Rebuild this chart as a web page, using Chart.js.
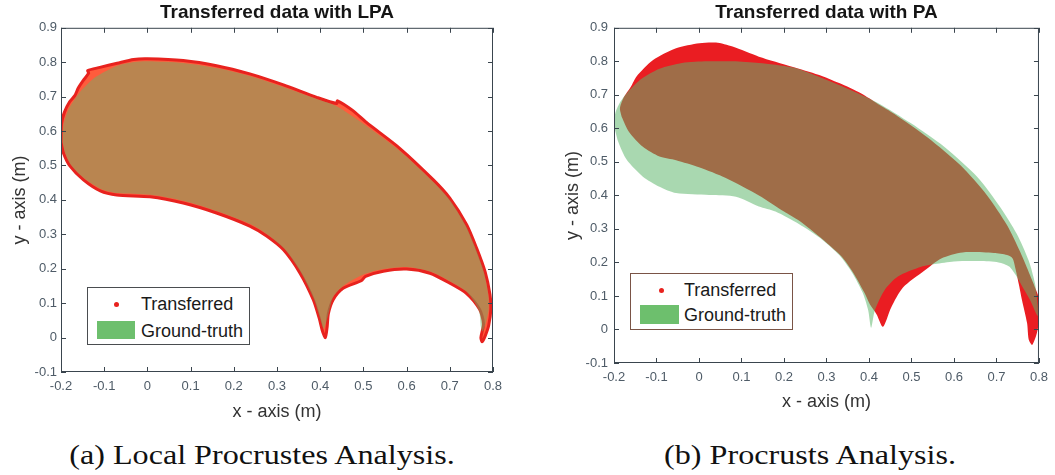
<!DOCTYPE html>
<html>
<head>
<meta charset="utf-8">
<script src="https://cdn.jsdelivr.net/npm/chart.js@4.4.1/dist/chart.umd.min.js"></script>
<style>
  html, body { margin: 0; padding: 0; background: #fff; }
  body { width: 1055px; height: 475px; position: relative; overflow: hidden; font-family: 'Liberation Sans', Arial, sans-serif; }
  .panel { position: absolute; top: 0; height: 430px; }
  #panelA { left: 0; width: 530px; }
  #panelB { left: 530px; width: 525px; }
  .legend { position: absolute; box-sizing: border-box; background: #fff; border: 1px solid #4a4d50; color: #1a1a1a; font-size: 18px; }
  .legend span { position: absolute; line-height: 20px; white-space: nowrap; }
  .legend .dot { position: absolute; width: 5px; height: 5px; border-radius: 50%; background: #e8221e; }
  .legend .patch { position: absolute; background: #6dbf6d; }
  .caption { position: absolute; top: 438px; font-family: 'Liberation Serif', 'Times New Roman', serif; font-size: 27px; line-height: 34px; text-align: center; color: #111; transform: scaleX(1.19); }
</style>
</head>
<body>
<div class="panel" id="panelA"><canvas id="lpa"></canvas></div>
<div class="panel" id="panelB"><canvas id="pa"></canvas></div>

<div class="legend" style="left:87px; top:287px; width:163px; height:58px;">
  <div class="dot" style="left:26px; top:14px;"></div>
  <span style="left:53px; top:6px;">Transferred</span>
  <div class="patch" style="left:9px; top:33px; width:38px; height:18px;"></div>
  <span style="left:53px; top:33px;">Ground-truth</span>
</div>
<div class="legend" style="left:630px; top:273px; width:163px; height:57px; border-color:#7a5446;">
  <div class="dot" style="left:28px; top:14px;"></div>
  <span style="left:53px; top:6px;">Transferred</span>
  <div class="patch" style="left:9px; top:31px; width:39px; height:19px;"></div>
  <span style="left:53px; top:31px;">Ground-truth</span>
</div>

<div class="caption" style="left:0; width:524px;">(a) Local Procrustes Analysis.</div>
<div class="caption" style="left:560px; width:500px;">(b) Procrusts Analysis.</div>

<script>
// axis ticks
const xTickValues = [-0.2, -0.1, 0, 0.1, 0.2, 0.3, 0.4, 0.5, 0.6, 0.7, 0.8];
const xTickLabels = ['-0.2', '-0.1', '0', '0.1', '0.2', '0.3', '0.4', '0.5', '0.6', '0.7', '0.8'];
const yTickValues = [-0.1, 0, 0.1, 0.2, 0.3, 0.4, 0.5, 0.6, 0.7, 0.8, 0.9];
const yTickLabels = ['-0.1', '0', '0.1', '0.2', '0.3', '0.4', '0.5', '0.6', '0.7', '0.8', '0.9'];

// (a) LPA - transferred outline
const lpaTransX = [-0.200,-0.199,-0.192,-0.180,-0.168,-0.160,-0.148,-0.136,-0.138,-0.110,-0.070,-0.032,0.000,0.083,0.160,0.237,0.315,0.392,0.438,0.440,0.475,0.507,0.584,0.662,0.700,0.739,0.762,0.782,0.793,0.795,0.790,0.782,0.775,0.772,0.778,0.769,0.739,0.700,0.654,0.600,0.546,0.505,0.495,0.453,0.430,0.419,0.416,0.412,0.405,0.398,0.384,0.353,0.315,0.276,0.237,0.160,0.083,0.006,-0.071,-0.109,-0.148,-0.179,-0.194,-0.200];
const lpaTransY = [0.567,0.620,0.655,0.685,0.703,0.725,0.748,0.768,0.776,0.785,0.797,0.808,0.810,0.805,0.790,0.766,0.734,0.698,0.680,0.688,0.660,0.625,0.550,0.458,0.405,0.328,0.260,0.190,0.125,0.082,0.035,0.005,-0.012,0.000,0.040,0.082,0.128,0.158,0.187,0.199,0.193,0.178,0.165,0.143,0.110,0.070,0.030,0.000,0.020,0.055,0.110,0.188,0.255,0.295,0.324,0.362,0.391,0.409,0.414,0.426,0.458,0.498,0.535,0.567];
// (a) LPA - ground truth outline
const lpaTruthX = [-0.196,-0.194,-0.184,-0.166,-0.150,-0.120,-0.070,-0.030,0.000,0.083,0.160,0.237,0.315,0.392,0.438,0.507,0.584,0.662,0.700,0.737,0.760,0.779,0.789,0.790,0.783,0.776,0.772,0.767,0.739,0.700,0.654,0.600,0.546,0.500,0.453,0.430,0.421,0.414,0.408,0.400,0.386,0.355,0.317,0.278,0.239,0.162,0.085,0.006,-0.070,-0.108,-0.146,-0.176,-0.190,-0.196];
const lpaTruthY = [0.567,0.620,0.660,0.697,0.722,0.757,0.790,0.801,0.803,0.798,0.783,0.760,0.728,0.693,0.672,0.615,0.543,0.452,0.400,0.325,0.258,0.190,0.125,0.082,0.040,0.018,0.030,0.080,0.133,0.164,0.192,0.205,0.199,0.183,0.150,0.118,0.078,0.045,0.025,0.055,0.110,0.190,0.258,0.299,0.329,0.367,0.397,0.415,0.420,0.432,0.462,0.500,0.535,0.567];

// (b) PA - transferred outline
const paTransX = [-0.182,-0.186,-0.178,-0.160,-0.147,-0.108,-0.054,0.001,0.040,0.079,0.141,0.219,0.281,0.330,0.382,0.421,0.460,0.538,0.616,0.678,0.725,0.756,0.779,0.795,0.802,0.803,0.795,0.784,0.776,0.772,0.760,0.753,0.745,0.738,0.725,0.694,0.620,0.570,0.530,0.480,0.452,0.433,0.418,0.402,0.390,0.365,0.336,0.290,0.235,0.200,0.141,0.063,0.000,-0.054,-0.093,-0.132,-0.165,-0.182];
const paTransY = [0.635,0.660,0.690,0.725,0.755,0.804,0.839,0.854,0.856,0.844,0.814,0.784,0.760,0.735,0.704,0.673,0.643,0.573,0.489,0.400,0.311,0.231,0.162,0.112,0.085,0.050,-0.011,-0.046,-0.031,0.019,0.088,0.133,0.180,0.212,0.222,0.228,0.230,0.212,0.175,0.125,0.065,0.008,0.045,0.075,0.108,0.165,0.217,0.270,0.325,0.352,0.400,0.452,0.484,0.505,0.516,0.545,0.590,0.635];
// (b) PA - ground truth outline
const paTruthX = [-0.200,-0.197,-0.187,-0.165,-0.135,-0.093,-0.040,0.020,0.080,0.141,0.219,0.270,0.343,0.421,0.499,0.577,0.655,0.709,0.748,0.776,0.791,0.797,0.797,0.779,0.760,0.745,0.730,0.705,0.660,0.600,0.555,0.523,0.468,0.437,0.414,0.405,0.398,0.385,0.360,0.330,0.285,0.235,0.180,0.141,0.087,0.024,-0.054,-0.093,-0.132,-0.170,-0.190,-0.200];
const paTruthY = [0.608,0.645,0.675,0.712,0.748,0.778,0.795,0.800,0.800,0.795,0.782,0.760,0.722,0.676,0.615,0.545,0.455,0.365,0.285,0.205,0.135,0.072,0.040,0.088,0.130,0.163,0.188,0.200,0.204,0.203,0.195,0.187,0.158,0.118,0.058,0.005,0.058,0.110,0.170,0.222,0.273,0.315,0.352,0.367,0.396,0.401,0.407,0.426,0.456,0.506,0.560,0.608];

const fontFamily = "'Liberation Sans', Arial, sans-serif";
const tickColor = '#4e5b67';
const axisColor = '#3a454e';

const toPoints = (xs, ys) => xs.map((x, i) => ({ x, y: ys[i] }));

// matlab style box with inward ticks on all four sides
const boxTicks = {
    id: 'boxTicks',
    afterDatasetsDraw(chart) {
        const { ctx, chartArea: a, scales: { x, y } } = chart;
        ctx.save();
        ctx.strokeStyle = axisColor;
        ctx.lineWidth = 1;
        ctx.strokeRect(a.left + 0.5, a.top + 0.5, a.right - a.left - 1, a.bottom - a.top - 1);
        ctx.beginPath();
        x.ticks.forEach(t => {
            const px = Math.round(x.getPixelForValue(t.value)) + 0.5;
            ctx.moveTo(px, a.bottom); ctx.lineTo(px, a.bottom - 5);
            ctx.moveTo(px, a.top); ctx.lineTo(px, a.top + 5);
        });
        y.ticks.forEach(t => {
            const py = Math.round(y.getPixelForValue(t.value)) + 0.5;
            ctx.moveTo(a.left, py); ctx.lineTo(a.left + 5, py);
            ctx.moveTo(a.right, py); ctx.lineTo(a.right - 5, py);
        });
        ctx.stroke();
        ctx.restore();
    }
};

function shape(points, fillColor, borderColor, borderWidth, order) {
    return {
        data: points,
        fill: 'shape',
        backgroundColor: fillColor,
        borderColor: borderColor,
        borderWidth: borderWidth,
        pointRadius: 0,
        tension: 0.25,
        order: order,
    };
}

function panelOptions(p) {
    return {
        responsive: true,
        maintainAspectRatio: false,
        animation: false,
        layout: { padding: { left: 0, right: p.padRight, top: 0, bottom: 0 } },
        plugins: {
            legend: { display: false },
            tooltip: { enabled: false },
            title: {
                display: true,
                text: p.title,
                fullSize: false,
                color: '#151515',
                font: { family: fontFamily, size: 19, weight: 'bold' },
                padding: { top: 1, bottom: 4 },
            },
        },
        scales: {
            x: {
                type: 'linear',
                min: -0.2, max: 0.8,
                afterBuildTicks: s => { s.ticks = xTickValues.map(v => ({ value: v })); },
                afterFit: s => { s.height = p.xHeight; },
                grid: { display: false, drawTicks: false },
                border: { display: false },
                ticks: {
                    padding: 7, autoSkip: false, maxRotation: 0,
                    color: tickColor, font: { family: fontFamily, size: 13 },
                    callback: (v, i) => xTickLabels[i],
                },
                title: {
                    display: true, text: 'x - axis (m)', color: '#333',
                    font: { family: fontFamily, size: 18 },
                    padding: { top: p.xTitlePad, bottom: p.xTitlePad },
                },
            },
            y: {
                type: 'linear',
                min: -0.1, max: 0.9,
                afterBuildTicks: s => { s.ticks = yTickValues.map(v => ({ value: v })); },
                afterFit: s => { s.width = p.yWidth; },
                grid: { display: false, drawTicks: false },
                border: { display: false },
                ticks: {
                    padding: p.yTickPad, autoSkip: false,
                    color: tickColor, font: { family: fontFamily, size: 13 },
                    callback: (v, i) => yTickLabels[i],
                },
                title: {
                    display: true, text: 'y - axis (m)', color: '#333',
                    font: { family: fontFamily, size: 18 },
                    padding: { top: p.yTitlePad, bottom: p.yTitlePad },
                },
            },
        },
    };
}

new Chart(document.getElementById('lpa'), {
    type: 'line',
    data: {
        datasets: [
            shape(toPoints(lpaTransX, lpaTransY), 'rgb(255,92,60)', '#e8221e', 3, 2),
            shape(toPoints(lpaTruthX, lpaTruthY), 'rgba(100,185,105,0.45)', 'rgba(0,0,0,0)', 0, 1),
        ]
    },
    options: panelOptions({ title: 'Transferred data with LPA', padRight: 37, xHeight: 58, yWidth: 61, yTickPad: 4, xTitlePad: 7, yTitlePad: 9 }),
    plugins: [boxTicks],
});

new Chart(document.getElementById('pa'), {
    type: 'line',
    data: {
        datasets: [
            shape(toPoints(paTransX, paTransY), '#ea1d22', 'rgba(0,0,0,0)', 0, 2),
            shape(toPoints(paTruthX, paTruthY), 'rgba(92,182,105,0.53)', 'rgba(0,0,0,0)', 0, 1),
        ]
    },
    options: panelOptions({ title: 'Transferred data with PA', padRight: 13, xHeight: 67, yWidth: 84, yTickPad: 6, xTitlePad: 17, yTitlePad: 32 }),
    plugins: [boxTicks],
});
</script>
</body>
</html>
